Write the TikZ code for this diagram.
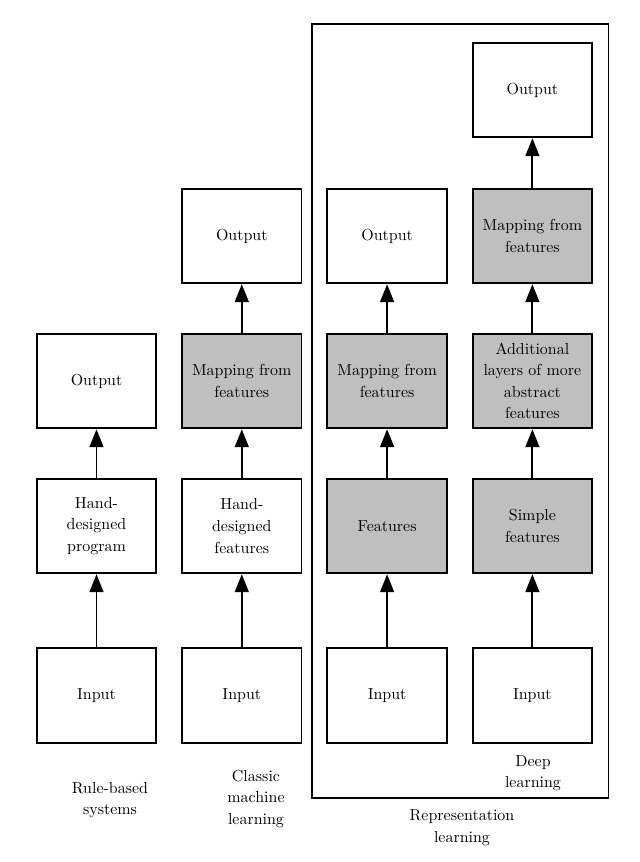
\documentclass[tikz,border=0pt]{standalone}
\usetikzlibrary{arrows.meta}
\definecolor{boxgray}{RGB}{191,191,191}
\begin{document}
\begin{tikzpicture}[x=0.645pt,y=-0.645pt,
  box/.style={draw, line width=1.2pt, minimum width=77pt, minimum height=61pt, align=center, font=\fontsize{10.3}{13.9}\selectfont, inner sep=0pt},
  shaded/.style={box, fill=boxgray},
  lbl/.style={align=center, font=\fontsize{10.3}{13.9}\selectfont},
  arr/.style={-{Triangle[length=11.6pt,width=9pt]}, line width=1.2pt}]
\useasboundingbox (0,0) rectangle (640,862);
% column 1
\node[box] (i1) at (96.5,695.5) {Input};
\node[box] (h1) at (96.5,526) {Hand-\\designed\\program};
\node[box] (o1) at (96.5,381) {Output};
% column 2
\node[box] (i2) at (241.8,695.5) {Input};
\node[box] (h2) at (241.8,526) {Hand-\\designed\\features};
\node[shaded] (m2) at (241.8,381) {Mapping from\\features};
\node[box] (o2) at (241.8,236) {Output};
% column 3
\node[box] (i3) at (387.1,695.5) {Input};
\node[shaded] (f3) at (387.1,526) {Features};
\node[shaded] (m3) at (387.1,381) {Mapping from\\features};
\node[box] (o3) at (387.1,236) {Output};
% column 4
\node[box] (i4) at (532.4,695.5) {Input};
\node[shaded] (s4) at (532.4,526) {Simple\\features};
\node[shaded] (a4) at (532.4,381) {Additional\\layers of more\\abstract\\features};
\node[shaded] (m4) at (532.4,236) {Mapping from\\features};
\node[box] (o4) at (532.4,90) {Output};
% arrows
\draw[arr] (i1) -- (h1);
\draw[arr] (h1) -- (o1);
\draw[arr] (i2) -- (h2);
\draw[arr] (h2) -- (m2);
\draw[arr] (m2) -- (o2);
\draw[arr] (i3) -- (f3);
\draw[arr] (f3) -- (m3);
\draw[arr] (m3) -- (o3);
\draw[arr] (i4) -- (s4);
\draw[arr] (s4) -- (a4);
\draw[arr] (a4) -- (m4);
\draw[arr] (m4) -- (o4);
% representation learning frame
\draw[line width=1.2pt] (312,24) rectangle (608.5,798);
% labels
\node[lbl] (l1) at (110,800) {Rule-based\\systems};
\node[lbl] (l2) at (256,799) {Classic\\machine\\learning};
\node[lbl] (l3) at (533,773) {Deep\\learning};
\node[lbl] (l4) at (462,827.5) {Representation\\learning};
\end{tikzpicture}
\end{document}
